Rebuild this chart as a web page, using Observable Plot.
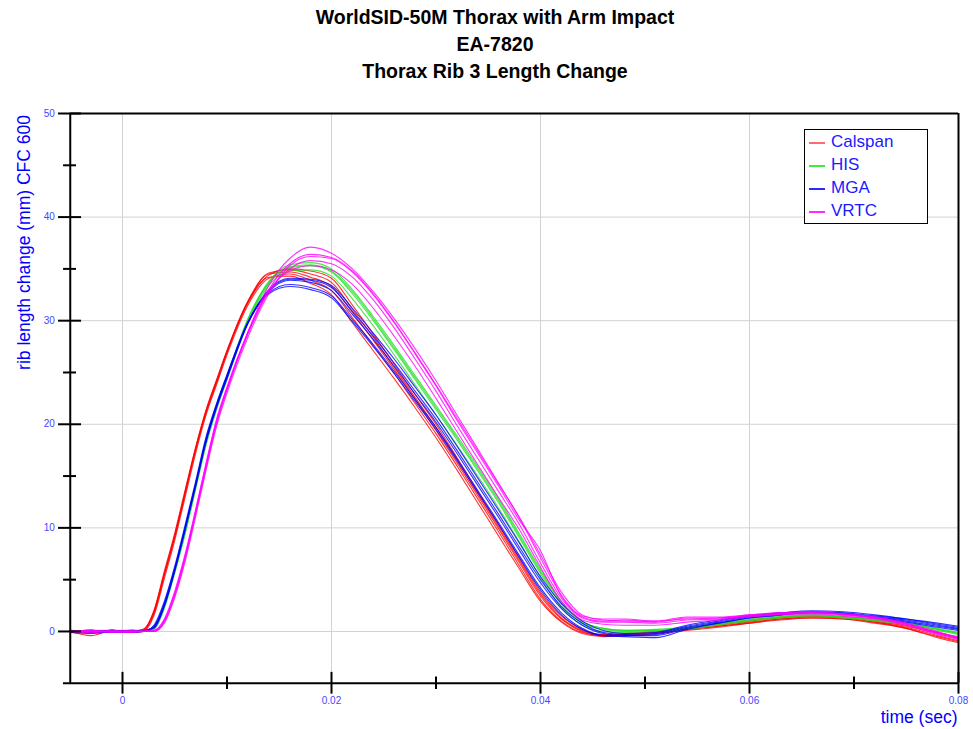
<!DOCTYPE html>
<html>
<head>
<meta charset="utf-8">
<script src="https://cdn.jsdelivr.net/npm/d3@7"></script>
<script src="https://cdn.jsdelivr.net/npm/@observablehq/plot@0.6"></script>
<style>
  html, body { margin: 0; padding: 0; background: #fff; overflow: hidden; }
  #wrap { position: relative; width: 973px; height: 729px; font-family: "Liberation Sans", Arial, sans-serif; }
  #title { position: absolute; left: 17px; top: 3.5px; width: 956px; text-align: center; font-weight: bold; font-size: 19.5px; line-height: 27px; color: #000; }
  #chart { position: absolute; left: 0; top: 100px; }
  #legend { position: absolute; left: 804px; top: 129px; width: 124px; height: 95px; box-sizing: border-box; border: 1.5px solid #000; background: #fff; }
  #legend .row { position: absolute; left: 0; height: 20px; width: 120px; }
  #legend .sw { position: absolute; left: 4px; top: 10px; width: 16px; height: 1.6px; }
  #legend .lb { position: absolute; left: 26px; top: 0; line-height: 20px; font-size: 17px; color: #1a1aff; white-space: nowrap; }
</style>
</head>
<body>
<div id="wrap">
  <div id="title"></div>
  <div id="chart"></div>
  <div id="legend"></div>
</div>
<script>
// ---------- text ----------
const titleLines = ["WorldSID-50M Thorax with Arm Impact", "EA-7820", "Thorax Rib 3 Length Change"];
const yLabel = "rib length change (mm) CFC 600";
const xLabel = "time (sec)";

// ---------- series names / colours ----------
const labs = ["Calspan", "HIS", "MGA", "VRTC"];
const labColors = ["#ff0000", "#22dd22", "#0000ff", "#ff00ff"];
const legendSwatch = ["#ff6a6a", "#44e844", "#2a2aff", "#ff2aff"];

// ---------- ticks ----------
const xMajor = [0, 0.02, 0.04, 0.06, 0.08];
const xMajorLabels = ["0", "0.02", "0.04", "0.06", "0.08"];
const xMinor = [0.01, 0.03, 0.05, 0.07];
const xGrid = [0, 0.02, 0.04, 0.06];
const yMajor = [0, 10, 20, 30, 40, 50];
const yMajorLabels = ["0", "10", "20", "30", "40", "50"];
const yMinor = [5, 15, 25, 35, 45];
const yGrid = [0, 10, 20, 30, 40];

// ---------- time samples (sec) ----------
const times = [-0.005, -0.003, -0.001, 0.001, 0.002, 0.003, 0.004, 0.005, 0.006, 0.007, 0.008, 0.009, 0.010,
  0.012, 0.014, 0.016, 0.018, 0.020, 0.022, 0.024, 0.026, 0.028, 0.030, 0.032, 0.034, 0.036, 0.038, 0.040,
  0.042, 0.044, 0.046, 0.048, 0.051, 0.054, 0.057, 0.060, 0.063, 0.066, 0.069, 0.072, 0.075, 0.078, 0.080];

// ---------- Calspan (mm) ----------
const calspan = [
  [0.0, 0.1, -0.1, 0.0, 0.1, 1.7, 5.4, 9.1, 13.3, 17.5, 21.1, 24.0, 26.9, 31.7, 34.4, 35.0, 34.8, 34.1, 31.5, 28.7, 25.8, 22.9, 20.0, 16.8, 13.5, 10.3, 7.0, 3.8, 1.5, 0.2, -0.3, -0.3, -0.1, 0.2, 0.5, 0.9, 1.2, 1.4, 1.3, 0.9, 0.4, -0.4, -0.9],
  [0.0, -0.4, 0.1, 0.0, 0.2, 2.0, 5.8, 9.5, 13.7, 17.8, 21.4, 24.3, 27.1, 31.8, 34.2, 34.3, 33.6, 32.5, 29.8, 27.1, 24.4, 21.6, 18.7, 15.6, 12.4, 9.2, 6.0, 2.9, 0.9, -0.2, -0.5, -0.4, -0.2, 0.1, 0.4, 0.8, 1.1, 1.3, 1.2, 0.8, 0.3, -0.6, -1.1],
  [0.1, -0.1, 0.0, 0.1, 0.1, 1.8, 5.5, 9.2, 13.4, 17.6, 21.2, 24.1, 27.0, 31.8, 34.5, 34.7, 34.2, 33.3, 30.8, 28.1, 25.3, 22.4, 19.4, 16.3, 13.1, 9.9, 6.6, 3.4, 1.2, 0.0, -0.4, -0.3, 0.0, 0.3, 0.6, 1.0, 1.3, 1.5, 1.4, 1.0, 0.5, -0.2, -0.7],
  [-0.1, 0.0, 0.1, -0.1, 0.0, 1.5, 5.1, 8.8, 13.0, 17.2, 20.9, 23.8, 26.7, 31.5, 34.1, 34.5, 33.9, 32.9, 30.3, 27.6, 24.9, 22.0, 19.1, 16.0, 12.8, 9.6, 6.3, 3.1, 1.0, -0.1, -0.4, -0.4, -0.2, 0.2, 0.5, 0.8, 1.2, 1.3, 1.2, 0.9, 0.3, -0.5, -1.0],
  [0.0, 0.1, 0.0, 0.0, 0.2, 1.9, 5.6, 9.3, 13.5, 17.7, 21.3, 24.2, 27.1, 31.9, 34.6, 34.9, 34.5, 33.7, 31.1, 28.4, 25.5, 22.6, 19.7, 16.6, 13.3, 10.1, 6.8, 3.6, 1.3, 0.1, -0.3, -0.2, 0.0, 0.3, 0.7, 1.1, 1.4, 1.5, 1.4, 1.1, 0.6, -0.1, -0.6]
];

// ---------- HIS (mm) ----------
const his = [
  [0.0, 0.1, 0.0, 0.0, 0.0, 0.3, 2.4, 5.8, 9.6, 13.9, 18.2, 21.6, 24.5, 30.0, 33.6, 35.1, 35.3, 34.7, 32.6, 30.0, 27.2, 24.3, 21.4, 18.5, 15.5, 12.4, 9.0, 5.6, 2.6, 0.8, 0.2, 0.0, 0.1, 0.3, 0.7, 1.1, 1.4, 1.55, 1.35, 1.1, 0.8, 0.2, -0.2],
  [0.0, 0.0, 0.1, 0.1, 0.0, 0.4, 2.6, 6.0, 9.8, 14.1, 18.4, 21.8, 24.7, 30.2, 33.8, 35.4, 35.6, 35.0, 33.0, 30.4, 27.6, 24.7, 21.8, 18.9, 15.9, 12.8, 9.4, 6.0, 2.9, 1.0, 0.3, 0.1, 0.2, 0.4, 0.8, 1.2, 1.5, 1.6, 1.4, 1.2, 0.8, 0.3, -0.1],
  [0.1, 0.0, -0.1, 0.0, 0.1, 0.2, 2.2, 5.6, 9.4, 13.7, 18.0, 21.4, 24.3, 29.8, 33.4, 34.8, 34.9, 34.3, 32.1, 29.5, 26.7, 23.8, 20.9, 18.0, 15.0, 11.9, 8.6, 5.2, 2.3, 0.6, 0.0, -0.1, 0.0, 0.2, 0.6, 1.0, 1.3, 1.5, 1.3, 1.0, 0.7, 0.1, -0.3],
  [0.0, 0.1, 0.1, 0.0, 0.0, 0.3, 2.5, 5.9, 9.7, 14.0, 18.3, 21.7, 24.6, 30.1, 33.7, 35.2, 35.4, 34.8, 32.8, 30.2, 27.4, 24.5, 21.6, 18.7, 15.7, 12.6, 9.2, 5.8, 2.8, 0.9, 0.3, 0.1, 0.1, 0.3, 0.7, 1.1, 1.4, 1.6, 1.4, 1.1, 0.8, 0.2, -0.2]
];

// ---------- MGA (mm) ----------
const mga = [
  [0.0, 0.0, 0.1, 0.0, 0.0, 0.4, 2.6, 6.0, 10.0, 14.2, 18.5, 21.8, 24.6, 29.8, 32.8, 33.9, 33.7, 32.9, 30.6, 28.2, 25.6, 22.9, 20.2, 17.2, 14.1, 11.0, 7.8, 4.7, 2.2, 0.6, -0.2, -0.4, -0.3, 0.4, 0.9, 1.4, 1.7, 1.85, 1.75, 1.4, 1.1, 0.6, 0.3],
  [-0.1, -0.2, 0.0, 0.1, 0.0, 0.6, 2.9, 6.3, 10.3, 14.5, 18.8, 22.0, 24.8, 29.9, 32.7, 33.5, 33.2, 32.4, 30.1, 27.7, 25.1, 22.4, 19.7, 16.7, 13.6, 10.5, 7.3, 4.2, 1.8, 0.3, -0.4, -0.5, -0.6, 0.2, 0.8, 1.3, 1.6, 1.8, 1.7, 1.3, 0.9, 0.4, 0.1],
  [0.0, 0.1, -0.1, 0.0, 0.1, 0.3, 2.4, 5.8, 9.8, 14.0, 18.3, 21.6, 24.4, 29.7, 32.9, 34.0, 33.9, 33.2, 30.9, 28.5, 25.9, 23.2, 20.5, 17.5, 14.4, 11.3, 8.1, 5.0, 2.4, 0.8, -0.1, -0.3, -0.2, 0.5, 1.0, 1.5, 1.8, 1.9, 1.8, 1.5, 1.2, 0.7, 0.4],
  [0.0, 0.0, 0.1, -0.1, 0.0, 0.5, 2.7, 6.1, 10.1, 14.3, 18.6, 21.9, 24.7, 29.8, 32.6, 33.3, 33.0, 32.2, 29.9, 27.5, 24.9, 22.2, 19.5, 16.5, 13.4, 10.3, 7.1, 4.0, 1.6, 0.2, -0.4, -0.4, -0.4, 0.3, 0.8, 1.3, 1.6, 1.8, 1.7, 1.4, 1.0, 0.5, 0.2],
  [0.1, -0.1, 0.0, 0.0, 0.1, 0.4, 2.5, 5.9, 9.9, 14.1, 18.4, 21.7, 24.5, 29.8, 33.0, 34.1, 34.0, 33.4, 31.2, 28.8, 26.3, 23.6, 20.9, 17.9, 14.8, 11.7, 8.5, 5.3, 2.7, 1.0, 0.1, -0.2, -0.1, 0.6, 1.1, 1.5, 1.8, 2.0, 1.9, 1.6, 1.2, 0.8, 0.5]
];

// ---------- VRTC (mm) ----------
const vrtc = [
  [0.0, 0.1, 0.0, -0.1, 0.0, 0.0, 0.9, 3.4, 7.0, 11.3, 15.8, 20.0, 23.3, 28.9, 33.4, 36.0, 37.1, 36.5, 35.0, 32.8, 30.2, 27.3, 24.2, 20.9, 17.6, 14.3, 10.9, 7.1, 3.5, 1.4, 1.0, 1.1, 0.9, 1.3, 1.3, 1.6, 1.8, 1.9, 1.7, 1.4, 0.8, -0.1, -0.6],
  [0.0, 0.0, 0.1, 0.0, 0.0, 0.0, 1.0, 3.6, 7.2, 11.5, 16.0, 20.2, 23.4, 28.7, 32.8, 35.0, 35.8, 35.5, 34.2, 32.0, 29.3, 26.3, 23.2, 19.9, 16.7, 13.5, 10.3, 6.6, 3.2, 1.3, 0.9, 0.9, 0.8, 1.1, 1.2, 1.5, 1.7, 1.8, 1.6, 1.3, 0.7, -0.2, -0.7],
  [0.1, 0.0, 0.0, 0.0, 0.1, 0.1, 1.2, 3.9, 7.5, 11.8, 16.3, 20.5, 23.6, 28.9, 32.9, 34.8, 35.3, 34.9, 33.5, 31.2, 28.5, 25.6, 22.5, 19.3, 16.1, 12.9, 9.8, 6.2, 2.9, 1.1, 0.7, 0.6, 0.6, 0.9, 1.1, 1.4, 1.6, 1.7, 1.5, 1.2, 0.6, -0.3, -0.8],
  [0.0, -0.1, 0.0, 0.1, 0.0, 0.0, 0.8, 3.3, 6.8, 11.1, 15.6, 19.8, 23.0, 28.4, 32.6, 35.3, 36.2, 36.0, 34.7, 32.5, 29.8, 26.8, 23.7, 20.4, 17.2, 14.0, 10.7, 7.8, 3.4, 1.5, 1.2, 1.2, 1.0, 1.4, 1.4, 1.6, 1.8, 1.8, 1.6, 1.3, 0.7, -0.1, -0.5],
  [0.0, 0.1, -0.1, 0.0, 0.0, 0.1, 1.1, 3.7, 7.3, 11.6, 16.1, 20.3, 23.5, 28.8, 33.0, 35.5, 36.4, 36.1, 34.8, 32.6, 29.9, 26.9, 23.8, 20.6, 17.4, 14.2, 11.0, 7.4, 3.8, 1.6, 1.1, 1.0, 1.0, 1.2, 1.3, 1.5, 1.7, 1.8, 1.7, 1.4, 0.8, 0.0, -0.6]
];

// ---------- build table ----------
const byLab = {Calspan: calspan, HIS: his, MGA: mga, VRTC: vrtc};
const rows = [];
labs.forEach(lab => {
  byLab[lab].forEach((trace, k) => {
    trace.forEach((v, i) => rows.push({lab, trace: lab + k, t: times[i], v}));
  });
});

// ---------- title & legend (HTML) ----------
document.getElementById("title").innerHTML = titleLines.join("<br>");
const legend = document.getElementById("legend");
labs.forEach((lab, i) => {
  const row = document.createElement("div");
  row.className = "row";
  row.style.top = (2 + 23 * i) + "px";
  row.innerHTML = `<div class="sw" style="background:${legendSwatch[i]}"></div><div class="lb">${lab}</div>`;
  legend.appendChild(row);
});

// ---------- chart ----------
const X0 = -0.005, X1 = 0.08, Y0 = -5, Y1 = 50;
const tickBlue = "#4646ff";
const chart = Plot.plot({
  width: 973,
  height: 629,
  marginLeft: 69.75,
  marginRight: 15,
  marginTop: 13,
  marginBottom: 46.25,
  x: {domain: [X0, X1], axis: null},
  y: {domain: [Y0, Y1], axis: null},
  color: {domain: labs, range: labColors},
  style: {background: "#fff", fontFamily: "'Liberation Sans', Arial, sans-serif", overflow: "visible"},
  marks: [
    Plot.ruleX(xGrid, {stroke: "#d2d2d2", strokeWidth: 1}),
    Plot.ruleY(yGrid, {stroke: "#d2d2d2", strokeWidth: 1}),
    Plot.line(rows, {x: "t", y: "v", z: "trace", stroke: "lab", strokeWidth: 1.1, strokeOpacity: 0.8, curve: "monotone-x"}),
    // frame
    Plot.ruleY([Y1], {x1: X0, x2: X1, stroke: "#000", strokeWidth: 2}),
    Plot.ruleX([X1], {y1: Y0, y2: Y1, stroke: "#000", strokeWidth: 2}),
    Plot.ruleX([X0], {y1: Y0, y2: Y1, stroke: "#000", strokeWidth: 2}),
    Plot.ruleY([Y0], {x1: X0 - 0.00065, x2: X1, stroke: "#000", strokeWidth: 2}),
    // y ticks
    Plot.ruleY(yMajor, {x1: X0 - 0.00112, x2: X0 + 0.00108, stroke: "#000", strokeWidth: 2}),
    Plot.ruleY(yMinor, {x1: X0 - 0.00064, x2: X0 + 0.0006, stroke: "#000", strokeWidth: 2}),
    // x ticks
    Plot.ruleX(xMajor, {y1: Y0 - 1.05, y2: Y0 + 1.05, stroke: "#000", strokeWidth: 2}),
    Plot.ruleX(xMinor, {y1: Y0 - 0.6, y2: Y0 + 0.6, stroke: "#000", strokeWidth: 2}),
    // tick labels
    Plot.text(yMajor, {x: X0, y: d => d, text: (d, i) => yMajorLabels[i], dx: -15.5, textAnchor: "end", lineAnchor: "middle", fill: tickBlue, fontSize: 10}),
    Plot.text(xMajor, {x: d => d, y: Y0, text: (d, i) => xMajorLabels[i], dy: 17.5, textAnchor: "middle", lineAnchor: "middle", fill: tickBlue, fontSize: 10}),
    // axis labels
    Plot.text([yLabel], {frameAnchor: "top-left", text: d => d, dx: -45.5, dy: 129, rotate: -90, textAnchor: "middle", lineAnchor: "middle", fill: "#0000ff", fontSize: 17.5}),
    Plot.text([xLabel], {frameAnchor: "bottom-right", text: d => d, dx: -1, dy: 34.5, textAnchor: "end", lineAnchor: "middle", fill: "#0000ff", fontSize: 17.5})
  ]
});
document.getElementById("chart").appendChild(chart);
</script>
</body>
</html>
